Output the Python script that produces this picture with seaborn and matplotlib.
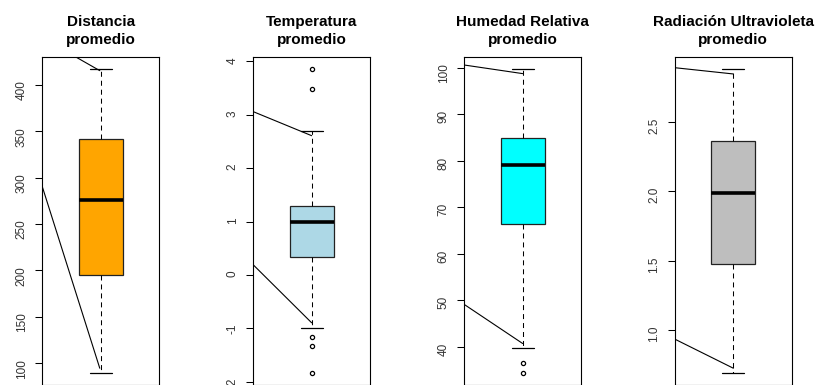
import matplotlib
matplotlib.use("Agg")
import matplotlib.pyplot as plt
import seaborn as sns

# ── Datos ────────────────────────────────────────────────────────
titulos = ["Distancia\npromedio", "Temperatura\npromedio",
           "Humedad Relativa\npromedio", "Radiación Ultravioleta\npromedio"]
colores = ["#FFA500", "#ADD8E6", "#00FFFF", "#BEBEBE"]

distancia   = [89.2, 120, 150, 175, 194.9, 215, 235, 255, 276,
               295, 310, 325, 341.2, 360, 380, 400, 417.2]
temperatura = [-1.84, -1.33, -1.17, -0.99, 0.34, 0.5, 0.7, 0.9, 1.0,
               1.1, 1.2, 1.25, 1.30, 2.0, 2.70, 3.49, 3.86]
humedad     = [34.3, 36.4, 39.8, 55, 66.4, 70, 74, 77, 79.2,
               81, 82.5, 84, 85.0, 88, 92, 96, 99.8]
radiacion   = [0.688, 1.0, 1.2, 1.35, 1.476, 1.6, 1.75, 1.9, 1.988,
               2.1, 2.2, 2.3, 2.363, 2.5, 2.65, 2.78, 2.88]

ticks_dist = [100, 150, 200, 250, 300, 350, 400]
ticks_temp = [-2, -1, 0, 1, 2, 3, 4]
ticks_hum  = [40, 50, 60, 70, 80, 90, 100]
ticks_rad  = [1.0, 1.5, 2.0, 2.5]
etiq_dist = ["100", "150", "200", "250", "300", "350", "400"]
etiq_temp = ["-2", "-1", "0", "1", "2", "3", "4"]
etiq_hum  = ["40", "50", "60", "70", "80", "90", "100"]
etiq_rad  = ["1.0", "1.5", "2.0", "2.5"]

# líneas diagonales (x0, y0, x1, y1)
lineas_dist = [(-0.29, 430.5, -0.01, 415.4), (-0.665, 290.3, -0.01, 94.6)]
lineas_temp = [(-0.665, 3.06, 0.0, 2.61), (-0.665, 0.19, 0.0, -0.895)]
lineas_hum  = [(-0.665, 100.65, 0.0, 98.8), (-0.665, 49.1, 0.0, 40.7)]
lineas_rad  = [(-0.665, 2.889, 0.0, 2.844), (-0.665, 0.933, 0.0, 0.724)]

series = [distancia, temperatura, humedad, radiacion]
ticks  = [ticks_dist, ticks_temp, ticks_hum, ticks_rad]
etiqs  = [etiq_dist, etiq_temp, etiq_hum, etiq_rad]
lineas = [lineas_dist, lineas_temp, lineas_hum, lineas_rad]

# ── Estilo ───────────────────────────────────────────────────────
sns.set_style("white")
plt.rcParams["font.family"] = ["Liberation Sans", "DejaVu Sans"]

W, H = 821, 385
fig = plt.figure(figsize=(W / 100, H / 100), dpi=100)
lefts_px = [42.3, 253.3, 464.3, 675.0]
ancho_px = 116.7

for i in range(4):
    ax = fig.add_axes([lefts_px[i] / W, -0.4 / H, ancho_px / W, (385.4 - 56.8) / H])
    sns.boxplot(y=series[i], ax=ax, color=colores[i], saturation=1, width=0.5,
                linecolor="black", linewidth=0.75,
                boxprops=dict(edgecolor="#222222", linewidth=0.9),
                whiskerprops=dict(linestyle=(0, (4.8, 3.8)), linewidth=0.75, color="black"),
                capprops=dict(linewidth=0.9, color="black"),
                medianprops=dict(linewidth=2.6, color="black", solid_capstyle="butt"),
                flierprops=dict(marker="o", markersize=3, markerfacecolor="none",
                                markeredgecolor="black", markeredgewidth=0.9))
    for x0, y0, x1, y1 in lineas[i]:
        ax.plot([x0, x1], [y0, y1], color="black", lw=0.8)

    lo, hi = min(series[i]), max(series[i])
    r = hi - lo
    ax.set_ylim(lo - 0.04 * r, hi + 0.04 * r)
    ax.set_xlim(-0.665, 0.665)
    ax.set_yticks(ticks[i])
    ax.set_yticklabels(etiqs[i])
    ax.set_xticks([])
    ax.set_xlabel(""); ax.set_ylabel("")
    ax.tick_params(axis="y", left=True, length=5, width=0.75, pad=5.5,
                   labelsize=8.5, labelrotation=90, labelcolor="#333333", color="black")
    for s in ax.spines.values():
        s.set_visible(True)
        s.set_color("black")
        s.set_linewidth(0.8)
    ax.set_title(titulos[i], fontweight="bold", fontsize=11, pad=9.5,
                 linespacing=1.3, color="black")

plt.savefig("out.png", dpi=100)
